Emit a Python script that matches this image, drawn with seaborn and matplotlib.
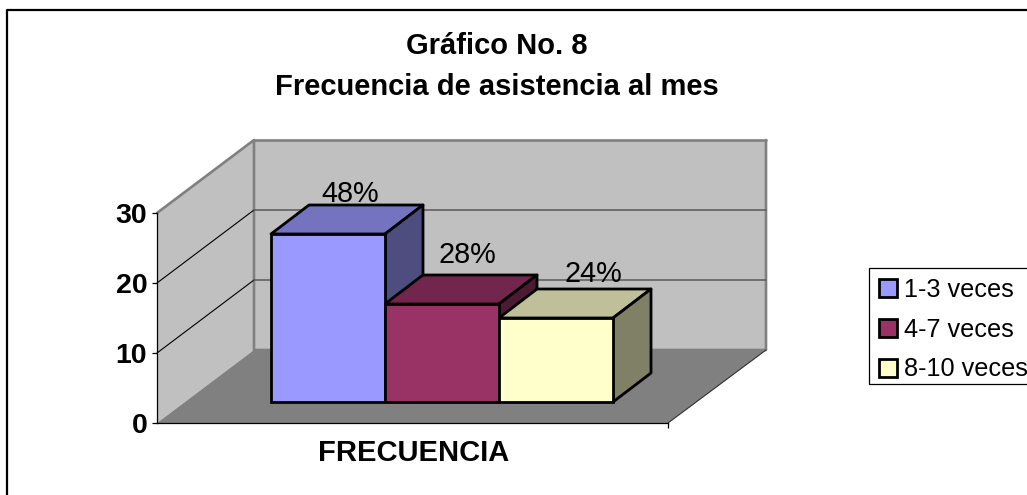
import numpy as np
import pandas as pd
import matplotlib
matplotlib.use("Agg")
import matplotlib.pyplot as plt
from matplotlib.patches import Polygon, Rectangle
import seaborn as sns

categories = ["1-3 veces", "4-7 veces", "8-10 veces"]
values = [24, 14, 12]
pct_labels = ["48%", "28%", "24%"]
colors = ["#9999FF", "#993366", "#FFFFCC"]
y_ticks = [0, 10, 20, 30]
title = "Gráfico No. 8\nFrecuencia de asistencia al mes"
xlabel = "FRECUENCIA"

W, H = 1027, 495
sns.set_theme(style="white")
plt.rcParams["font.family"] = ["Liberation Sans", "DejaVu Sans"]

def axes_px(fig, x0, x1, y_top, y_bot):
    return fig.add_axes([x0/W, 1-y_bot/H, (x1-x0)/W, (y_bot-y_top)/H])

def shade(c, f):
    return tuple(np.array(matplotlib.colors.to_rgb(c))*f)

fig = plt.figure(figsize=(W/100, H/100), dpi=100, facecolor="white")

# walls + floor, in pixels
bg = fig.add_axes([0, 0, 1, 1], zorder=0)
bg.set_xlim(0, W); bg.set_ylim(H, 0); bg.axis("off")
bg.add_patch(Polygon([(157,213),(254,140),(254,350),(157,423)], fc="#C0C0C0", ec="none"))
bg.add_patch(Polygon([(254,140),(766,140),(766,350),(254,350)], fc="#C0C0C0", ec="none"))
bg.add_patch(Polygon([(157,423),(254,350),(766,350),(668,423)], fc="#808080", ec="none"))
bg.plot([157,254,254,766,766], [213,140,350,350,140], color="#808080", lw=1.9)
bg.plot([254,766], [140,140], color="#808080", lw=1.9)
for t in y_ticks[1:-1]:
    y = 423-7*t
    bg.plot([157,254], [y,y-73], color="black", lw=0.8)
    bg.plot([254,766], [y-73,y-73], color="#606060", lw=1.2)
bg.plot([668,766], [423,350], color="#303030", lw=0.8)
# outer frame, open on right and bottom
bg.plot([7,7,W], [H,10,10], color="black", lw=1.6, clip_on=False)
# legend box, the text sits a bit high in it so it is drawn apart
bg.add_patch(Rectangle((869,268), W+10-869, 116, fc="white", ec="black", lw=0.9))

# value axis
ax0 = axes_px(fig, 157, 668, 213, 423)
ax0.set_zorder(1)
ax0.patch.set_alpha(0)
ax0.set_ylim(0, 30)
ax0.set_xlim(0, 1)
ax0.set_yticks(y_ticks)
ax0.set_xticks([1])
ax0.set_xticklabels([""])
ax0.tick_params(axis="both", length=3.6, width=0.9, color="black", left=True, bottom=True, pad=3.5)
for lab in ax0.get_yticklabels():
    lab.set_fontsize(20.5); lab.set_fontweight("bold"); lab.set_color("black")
sns.despine(ax=ax0)
ax0.spines["left"].set_color("black"); ax0.spines["bottom"].set_color("black")
ax0.spines["left"].set_linewidth(0.9); ax0.spines["bottom"].set_linewidth(0.9)

# bars
df = pd.DataFrame({"serie": categories, "valor": values})
ax = axes_px(fig, 271, 613, 192, 402)
ax.set_zorder(2)
sns.barplot(data=df, x="serie", y="valor", hue="serie", hue_order=categories,
            palette=dict(zip(categories, colors)), width=1, dodge=False, saturation=1,
            edgecolor="black", linewidth=2, ax=ax, legend=True)
ax.set_xlim(-0.5, 2.5)
ax.set_ylim(0, 30)
handles, labels = ax.get_legend_handles_labels()
ax.get_legend().remove()
ax.patch.set_alpha(0)
ax.axis("off")

dx, dy = 38/114, 29/7
lab_off = [(22, 40), (25, 49), (37, 44)]
for i, cont in enumerate(ax.containers):
    b = cont[0]
    b.set_clip_on(False)
    b.set_zorder(5+i)
    x0, x1, top = b.get_x(), b.get_x()+b.get_width(), b.get_height()
    ax.add_patch(Polygon([(x0,top),(x1,top),(x1+dx,top+dy),(x0+dx,top+dy)], fc=shade(colors[i],.75),
                         ec="black", lw=2, clip_on=False, zorder=3+i, joinstyle="round"))
    ax.add_patch(Polygon([(x1,0),(x1+dx,dy),(x1+dx,top+dy),(x1,top)], fc=shade(colors[i],.5),
                         ec="black", lw=2, clip_on=False, zorder=3+i, joinstyle="round"))
    ox, oy = lab_off[i]
    ax.annotate(pct_labels[i], xy=((x0+x1)/2, top), xytext=(ox*.72, oy*.72), textcoords="offset points",
                ha="center", va="center", fontsize=20.8, color="black", zorder=20, annotation_clip=False)

fig.text(497/W, 1-66.5/H, title, ha="center", va="center", fontsize=21, fontweight="bold",
         color="black", linespacing=1.57)
fig.text(414/W, 1-453/H, xlabel, ha="center", va="center", fontsize=21, fontweight="bold", color="black")

leg = fig.legend(handles, labels, loc="upper left", bbox_to_anchor=(869/W, 1-268/H),
                 bbox_transform=fig.transFigure, borderaxespad=0, borderpad=0.38, fontsize=18.2,
                 handlelength=0.72, handleheight=0.72, handletextpad=0.3, labelspacing=0.63,
                 frameon=False, labelcolor="black")
leg.set_zorder(30)
for h in leg.legend_handles:
    h.set_edgecolor("black"); h.set_linewidth(2)

fig.savefig("out.png", dpi=100)
